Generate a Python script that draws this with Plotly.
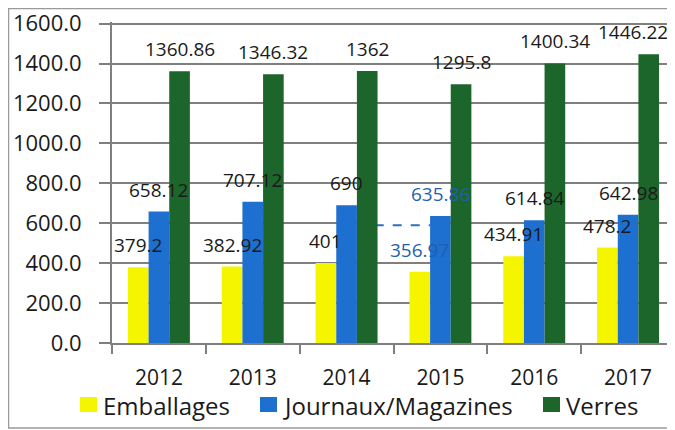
import plotly.graph_objects as go

years = ["2012", "2013", "2014", "2015", "2016", "2017"]
emballages = [379.2, 382.92, 401, 356.97, 434.91, 478.2]
journaux = [658.12, 707.12, 690, 635.86, 614.84, 642.98]
verres = [1360.86, 1346.32, 1362, 1295.8, 1400.34, 1446.22]
series_names = ["Emballages", "Journaux/Magazines", "Verres"]
y_ticks = [0, 200, 400, 600, 800, 1000, 1200, 1400, 1600]

colors = ["#f5f500", "#1d6fd0", "#1d662b"]
FONT = "Open Sans"

# figure geometry (the page body adds an 8px margin, so the figure fills the window)
W, H = 667, 422
ML, MR, MT, MB = 104, 0, 14, 87
PW, PH = W - ML - MR, H - MT - MB


def px_x(fx):
    return (fx - ML) / PW


def px_y(fy):
    return (H - MB - fy) / PH


fig = go.Figure()
all_series = [emballages, journaux, verres]
for name, vals, col in zip(series_names, all_series, colors):
    fig.add_trace(go.Bar(x=years, y=vals, name=name, marker_color=col,
                         marker_line_width=0, showlegend=False))

# data labels as annotations (category axis -> use category index)
bar_px = 20.7
offsets = [-bar_px, 0, bar_px]
nudge = {(2, 5): -16}
for si, vals in enumerate(all_series):
    for ci, (yr, v) in enumerate(zip(years, vals)):
        col = "#1f5fb0" if yr == "2015" and si < 2 else "#1a1a1a"
        fig.add_annotation(x=ci, y=v, xref="x", yref="y", text=f"{v:g}", showarrow=False,
                           xshift=offsets[si] + nudge.get((si, ci), 0), yshift=22,
                           yanchor="middle", xanchor="center",
                           font=dict(family=FONT, size=19, color=col))

# legend drawn by hand (swatch + label) below the axis
legend_x = [72, 252, 535]   # swatch left edges, px
for name, col, lx in zip(series_names, colors, legend_x):
    fig.add_shape(type="rect", xref="paper", yref="paper",
                  x0=px_x(lx), x1=px_x(lx + 17), y0=px_y(404), y1=px_y(389),
                  fillcolor=col, line_width=0, layer="above")
    fig.add_annotation(x=px_x(lx + 21), y=px_y(397), xref="paper", yref="paper",
                       text=name, showarrow=False, xanchor="left", yanchor="middle",
                       font=dict(family=FONT, size=24, color="#1a1a1a"))

# scan artefact: white box behind the 2015 labels with a blue dashed line
fig.add_shape(type="rect", xref="x", yref="y", x0=2.30, x1=3.10, y0=410, y1=790,
              fillcolor="white", line_width=0, layer="between")
fig.add_shape(type="line", xref="x", yref="y", x0=2.30, x1=2.89, y0=590, y1=590,
              line=dict(color="#2f6fbf", width=2, dash="dash"), layer="between")

# outer frame
fig.add_shape(type="rect", xref="paper", yref="paper", x0=px_x(0.5), x1=px_x(W + 20),
              y0=px_y(420), y1=px_y(0.5), line=dict(color="#9a9a9a", width=1.5),
              fillcolor="rgba(0,0,0,0)", layer="above")

fig.update_layout(
    width=W, height=H,
    margin=dict(l=ML, r=MR, t=MT, b=MB),
    paper_bgcolor="white", plot_bgcolor="white",
    barmode="group", bargap=0.34, bargroupgap=0,
    font=dict(family=FONT, color="#1a1a1a"),
    showlegend=False,
)
fig.update_xaxes(type="category", range=[-0.5, 5.5], showline=True, linecolor="#7f7f7f", linewidth=2,
                 ticks="outside", tickson="boundaries", ticklen=9, tickwidth=2,
                 tickcolor="#7f7f7f", tickfont=dict(family=FONT, size=21, color="#1a1a1a"),
                 ticklabelstandoff=15, showgrid=False, tickangle=0)
# range top a little above 1600 so the 1600 grid line is drawn
fig.update_yaxes(range=[0, 1608], tickvals=y_ticks,
                 ticktext=[f"{t:.1f}" for t in y_ticks],
                 showgrid=True, gridcolor="#7f7f7f", gridwidth=2,
                 showline=True, linecolor="#7f7f7f", linewidth=2,
                 ticks="outside", ticklen=11, tickwidth=2, tickcolor="#7f7f7f",
                 tickfont=dict(family=FONT, size=22, color="#1a1a1a"),
                 ticklabelstandoff=13, ticklabeloverflow="allow", zeroline=False)

fig.write_html("out.html")
